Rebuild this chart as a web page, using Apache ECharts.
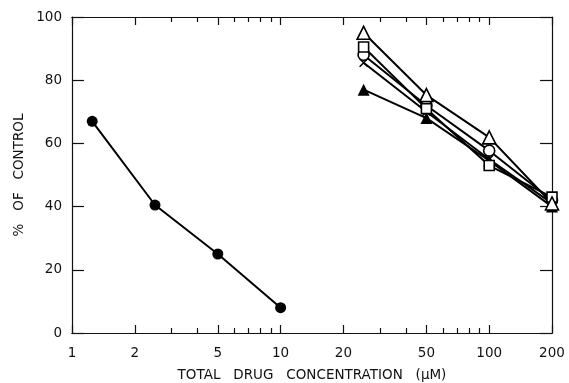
<!DOCTYPE html>
<html><head><meta charset="utf-8">
<script src="https://cdn.jsdelivr.net/npm/echarts@6/dist/echarts.min.js"></script>
<style>html,body{margin:0;padding:0;background:#fff}#c{width:569px;height:383px}</style>
</head><body><div id="c"></div>
<script>
const xMajorTicks = [1, 2, 5, 10, 20, 50, 100, 200];
const xMinorTicks = [3, 4, 6, 7, 8, 9, 30, 40, 60, 70, 80, 90];
const yTicks = [0, 20, 40, 60, 80, 100];

const concLow = [1.25, 2.5, 5, 10];
const filledCircle = [67, 40.5, 25, 8];

const concHigh = [25, 50, 100, 200];
const openTriangle = [95, 75.3, 61.9, 41];
const openSquare = [90.5, 71, 53, 43];
const openCircle = [88, 72, 57.7, 42];
const crossMark = [85.5, 70, 55, 41];
const filledTriangle = [77, 68, 54.5, 40];

function pairs(xs, ys){ return xs.map((x,i)=>[x, ys[i]]); }

const chart = echarts.init(document.getElementById('c'));
const font = 'DejaVu Sans, sans-serif';
const lbl = {color:'#111', fontFamily:font, fontSize:13.5};
const titleFont = {color:'#111', fontFamily:font, fontSize:13.5};

function xAx(pos, ticks, len, showLabel){
  return {
    type:'log', logBase:10, min:1, max:200, position:pos,
    axisLine:{show:true, onZero:false, lineStyle:{color:'#111', width:1.2}},
    axisTick:{show:true, inside:true, length:len, customValues:ticks, lineStyle:{color:'#111', width:1.2}},
    axisLabel:{show:showLabel, customValues:ticks, margin:13, ...lbl},
    splitLine:{show:false}, minorTick:{show:false}, minorSplitLine:{show:false}
  };
}
function yAx(pos, showLabel){
  return {
    type:'value', min:0, max:100, interval:20, position:pos,
    axisLine:{show:true, lineStyle:{color:'#111', width:1.2}},
    axisTick:{show:true, inside:true, length:12, lineStyle:{color:'#111', width:1.2}},
    axisLabel:{show:showLabel, margin:10, ...lbl},
    splitLine:{show:false}
  };
}

const xAxes = [
  Object.assign(xAx('bottom', xMajorTicks, 8, true), {
    name:'TOTAL   DRUG   CONCENTRATION   (\u03bcM)', nameLocation:'middle', nameGap:35,
    nameMoveOverlap:false, nameTextStyle:titleFont
  }),
  xAx('bottom', xMinorTicks, 5, false),
  xAx('top', xMajorTicks, 8, false),
  xAx('top', xMinorTicks, 5, false)
];
const yAxes = [
  Object.assign(yAx('left', true), {
    name:'%   OF   CONTROL', nameLocation:'middle', nameGap:46, nameRotate:90,
    nameMoveOverlap:false, nameTextStyle:titleFont
  }),
  yAx('right', false)
];

const open = {color:'#fff', borderColor:'#000', borderWidth:1.6};
const line = {color:'#000', width:2};
function s(data, symbol, size, itemStyle){
  return {type:'line', xAxisIndex:0, yAxisIndex:0, data, symbol, symbolSize:size,
    lineStyle:line, itemStyle, z:3};
}

chart.setOption({
  animation:false,
  backgroundColor:'#fff',
  grid:{left:72, right:17, top:17, bottom:50, containLabel:false, outerBoundsMode:'none'},
  xAxis:xAxes,
  yAxis:yAxes,
  series:[
    s(pairs(concLow, filledCircle), 'circle', 11, {color:'#000'}),
    s(pairs(concHigh, filledTriangle), 'triangle', 12, {color:'#000'}),
    s(pairs(concHigh, crossMark), 'path://M0,0L10,10M10,0L0,10', 8, {color:'#000', borderColor:'#000', borderWidth:1.5}),
    s(pairs(concHigh, openCircle), 'circle', 11, open),
    s(pairs(concHigh, openSquare), 'rect', 10, open),
    s(pairs(concHigh, openTriangle), 'triangle', 13, open)
  ]
});
</script></body></html>
